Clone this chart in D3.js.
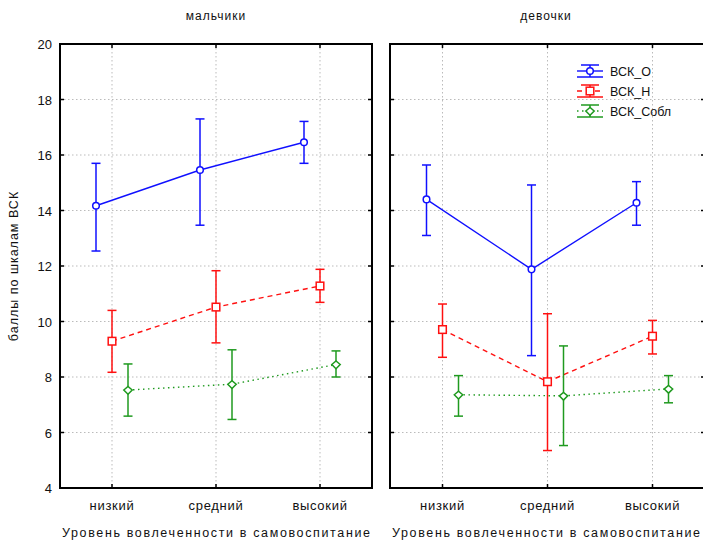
<!DOCTYPE html>
<html>
<head>
<meta charset="utf-8">
<script src="https://cdn.jsdelivr.net/npm/d3@7"></script>
<style>
  body { margin: 0; background: #fff; }
  text { font-family: "Liberation Sans", Arial, sans-serif; fill: #111; }
</style>
</head>
<body>
<div id="chart"></div>
<script>
var categories = ["низкий", "средний", "высокий"],
    panels = ["мальчики", "девочки"],
    seriesNames = ["ВСК_О", "ВСК_Н", "ВСК_Собл"],
    yTicks = [4, 6, 8, 10, 12, 14, 16, 18, 20];

// means and interval ends, per panel (boys, girls)
var meanO = [[14.17, 15.46, 16.46], [14.40, 11.88, 14.28]],
    lowO  = [[12.54, 13.47, 15.70], [13.10, 8.77, 13.47]],
    highO = [[15.70, 17.30, 17.21], [15.64, 14.92, 15.04]];
var meanH = [[9.29, 10.52, 11.28], [9.71, 7.83, 9.47]],
    lowH  = [[8.17, 9.23, 10.69], [8.71, 5.35, 8.83]],
    highH = [[10.40, 11.83, 11.88], [10.63, 10.28, 10.04]];
var meanS = [[7.53, 7.74, 8.45], [7.36, 7.32, 7.57]],
    lowS  = [[6.59, 6.47, 8.00], [6.59, 5.53, 7.07]],
    highS = [[8.47, 8.98, 8.94], [8.05, 9.12, 8.05]];

var W = 703, H = 542,
    plotTop = 44, plotBottom = 488,
    panelLeft = [60, 390], panelWidth = [312, 315];

var styles = [
    {color: "#1010ff", dash: null, marker: "circle", off: -16, mean: meanO, low: lowO, high: highO},
    {color: "#ff1010", dash: "5,4", marker: "square", off: 0, mean: meanH, low: lowH, high: highH},
    {color: "#1f9a1f", dash: "1.5,3.5", marker: "diamond", off: 16, mean: meanS, low: lowS, high: highS}
];

var svg = d3.select("#chart").append("svg")
    .attr("width", W).attr("height", H);

var y = d3.scaleLinear().domain([4, 20]).range([plotBottom, plotTop]);

function drawMarker(g, type, cx, cy, color) {
    if (type == "circle") {
        g.append("circle").attr("cx", cx).attr("cy", cy).attr("r", 3.3)
            .attr("fill", "#fff").attr("stroke", color).attr("stroke-width", 1.5);
    } else if (type == "square") {
        g.append("rect").attr("x", cx - 3.8).attr("y", cy - 3.8)
            .attr("width", 7.6).attr("height", 7.6)
            .attr("fill", "#fff").attr("stroke", color).attr("stroke-width", 1.5);
    } else {
        g.append("path")
            .attr("d", "M" + (cx - 4.2) + "," + cy + "L" + cx + "," + (cy - 3.5) +
                  "L" + (cx + 4.2) + "," + cy + "L" + cx + "," + (cy + 4.2) + "Z")
            .attr("fill", "#fff").attr("stroke", color).attr("stroke-width", 1.5);
    }
}

panels.forEach(function(title, p) {
    var x0 = panelLeft[p], panelW = panelWidth[p];
    var x = d3.scalePoint().domain(categories)
        .range([x0, x0 + panelW]).padding(0.5);

    var g = svg.append("g");

    // grid
    g.selectAll(".gy").data(yTicks.slice(1, -1)).enter().append("line")
        .attr("x1", x0).attr("x2", x0 + panelW)
        .attr("y1", function(d) { return y(d); }).attr("y2", function(d) { return y(d); })
        .attr("stroke", "#bbb").attr("stroke-dasharray", "1.5,2.5");
    g.selectAll(".gx").data(categories).enter().append("line")
        .attr("x1", function(d) { return x(d); }).attr("x2", function(d) { return x(d); })
        .attr("y1", plotTop).attr("y2", plotBottom)
        .attr("stroke", "#bbb").attr("stroke-dasharray", "1.5,2.5");

    // series
    styles.forEach(function(s, si) {
        var pts = categories.map(function(c, i) {
            return {x: x(c) + s.off, m: s.mean[p][i], lo: s.low[p][i], hi: s.high[p][i]};
        });
        var line = d3.line().x(function(d) { return d.x; }).y(function(d) { return y(d.m); });
        g.append("path").datum(pts).attr("d", line)
            .attr("fill", "none").attr("stroke", s.color).attr("stroke-width", 1.4)
            .attr("stroke-dasharray", s.dash);
        pts.forEach(function(d) {
            g.append("line").attr("x1", d.x).attr("x2", d.x)
                .attr("y1", y(d.lo)).attr("y2", y(d.hi))
                .attr("stroke", s.color).attr("stroke-width", 1.5);
            [d.lo, d.hi].forEach(function(v) {
                g.append("line").attr("x1", d.x - 4.5).attr("x2", d.x + 4.5)
                    .attr("y1", y(v)).attr("y2", y(v))
                    .attr("stroke", s.color).attr("stroke-width", 1.5);
            });
            drawMarker(g, s.marker, d.x, y(d.m), s.color);
        });
    });

    // frame and inward ticks
    g.append("rect").attr("x", x0).attr("y", plotTop)
        .attr("width", panelW).attr("height", plotBottom - plotTop)
        .attr("fill", "none").attr("stroke", "#000").attr("stroke-width", 2);
    g.selectAll(".tyl").data(yTicks).enter().append("line")
        .attr("x1", x0).attr("x2", x0 + 4)
        .attr("y1", function(d) { return y(d); }).attr("y2", function(d) { return y(d); })
        .attr("stroke", "#000").attr("stroke-width", 1.5);
    g.selectAll(".tyr").data(yTicks).enter().append("line")
        .attr("x1", x0 + panelW - 4).attr("x2", x0 + panelW)
        .attr("y1", function(d) { return y(d); }).attr("y2", function(d) { return y(d); })
        .attr("stroke", "#000").attr("stroke-width", 1.5);
    [plotTop, plotBottom].forEach(function(yy, k) {
        g.selectAll(".tx" + k).data(categories).enter().append("line")
            .attr("x1", function(d) { return x(d); }).attr("x2", function(d) { return x(d); })
            .attr("y1", yy).attr("y2", k == 0 ? yy + 4 : yy - 4)
            .attr("stroke", "#000").attr("stroke-width", 1.5);
    });

    // texts
    g.append("text").attr("x", x0 + 156).attr("y", 20)
        .attr("text-anchor", "middle").style("font-size", "12px")
        .attr("letter-spacing", "1").text(title);
    g.selectAll(".xl").data(categories).enter().append("text")
        .attr("x", function(d) { return x(d); }).attr("y", 510)
        .attr("text-anchor", "middle").style("font-size", "13px")
        .attr("letter-spacing", "0.7")
        .text(function(d) { return d; });
    g.append("text").attr("x", x0 + 156).attr("y", 537)
        .attr("text-anchor", "middle").style("font-size", "12.5px")
        .attr("textLength", 308).attr("lengthAdjust", "spacing")
        .text("Уровень вовлеченности в самовоспитание");

    if (p == 0) {
        g.selectAll(".yl").data(yTicks).enter().append("text")
            .attr("x", 52).attr("y", function(d) { return y(d) + 5; })
            .attr("text-anchor", "end").style("font-size", "13px")
            .text(function(d) { return d; });
        g.append("text")
            .attr("transform", "translate(18," + ((plotTop + plotBottom) / 2) + ") rotate(-90)")
            .attr("text-anchor", "middle").style("font-size", "12.5px")
            .attr("letter-spacing", "1")
            .text("баллы по шкалам ВСК");
    } else {
        // legend
        var lg = g.append("g");
        styles.forEach(function(s, si) {
            var cy = 71 + si * 20, cx = 590;
            lg.append("line").attr("x1", 577).attr("x2", 603).attr("y1", cy).attr("y2", cy)
                .attr("stroke", s.color).attr("stroke-width", 1.4).attr("stroke-dasharray", s.dash);
            lg.append("line").attr("x1", cx).attr("x2", cx).attr("y1", cy - 6).attr("y2", cy + 6)
                .attr("stroke", s.color).attr("stroke-width", 1.5);
            lg.append("line").attr("x1", 581).attr("x2", 599).attr("y1", cy - 6).attr("y2", cy - 6)
                .attr("stroke", s.color).attr("stroke-width", 1.5);
            lg.append("line").attr("x1", 577).attr("x2", 603).attr("y1", cy + 6).attr("y2", cy + 6)
                .attr("stroke", s.color).attr("stroke-width", 1.5);
            drawMarker(lg, s.marker, cx, cy, s.color);
            lg.append("text").attr("x", 610).attr("y", cy + 4.5)
                .style("font-size", "12.5px").text(seriesNames[si]);
        });
    }
});
</script>
</body>
</html>
